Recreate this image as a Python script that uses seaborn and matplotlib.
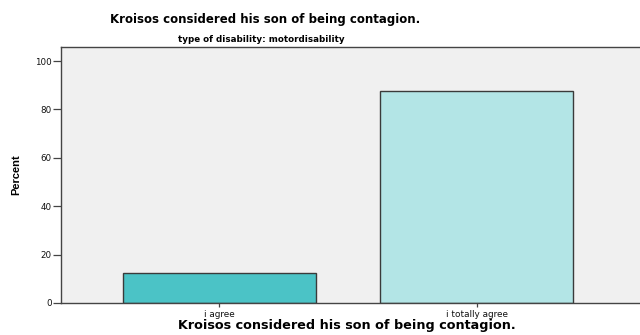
import seaborn as sns
import matplotlib.pyplot as plt
import pandas as pd

sns.set_theme(style="white")
plt.rcParams['font.family'] = ['DejaVu Sans']

categories = ["i agree", "i totally agree"]
percent = [12.5, 87.5]
bar_colors = ["#4BC3C6", "#B3E5E6"]

df = pd.DataFrame({"answer": categories, "Percent": percent})

fig = plt.figure(figsize=(6.4, 3.35), dpi=100)
ax = fig.add_axes([61 / 640, 32 / 335, 1 - 61 / 640 + 0.01, 256 / 335])
ax.set_facecolor("#F0F0F0")

sns.barplot(data=df, x="answer", y="Percent", hue="answer", palette=bar_colors,
            saturation=1, width=0.75, edgecolor="#3a3a3a", linewidth=1.0,
            legend=False, ax=ax)

ax.set_xlim(-0.615, 1.66)
ax.set_ylim(0, 105.8)
ax.set_yticks([0, 20, 40, 60, 80, 100])

for side in ["left", "top", "bottom"]:
    ax.spines[side].set_color("#444444")
    ax.spines[side].set_linewidth(1.0)
ax.spines["right"].set_visible(False)

ax.tick_params(axis="y", direction="out", length=6, width=0.9, color="#444444",
               labelsize=6.3, pad=0.5, left=True, labelcolor="#111111")
ax.tick_params(axis="x", direction="out", length=3, width=0.9, color="#444444",
               labelsize=6.4, pad=2, bottom=True, labelcolor="#111111")

ax.set_ylabel("Percent", fontsize=8, fontweight="bold", color="black",
              family=['Liberation Sans Narrow', 'Liberation Sans'], labelpad=10)
ax.set_xlabel("Kroisos considered his son of being contagion.", fontsize=9.2,
              fontweight="bold", color="black")
ax.xaxis.label.set_va("center")
ax.xaxis.set_label_coords((347 - 61) / (640 - 61 + 6.4), (10 - 32) / 256)

fig.text(265 / 640, 1 - 20 / 335, "Kroisos considered his son of being contagion.",
         ha="center", va="center", fontsize=8.5, fontweight="bold", color="black")
fig.text(261 / 640, 1 - 40 / 335, "type of disability: motordisability",
         ha="center", va="center", fontsize=6.3, fontweight="bold", color="black")

fig.savefig("out.png", dpi=100)
